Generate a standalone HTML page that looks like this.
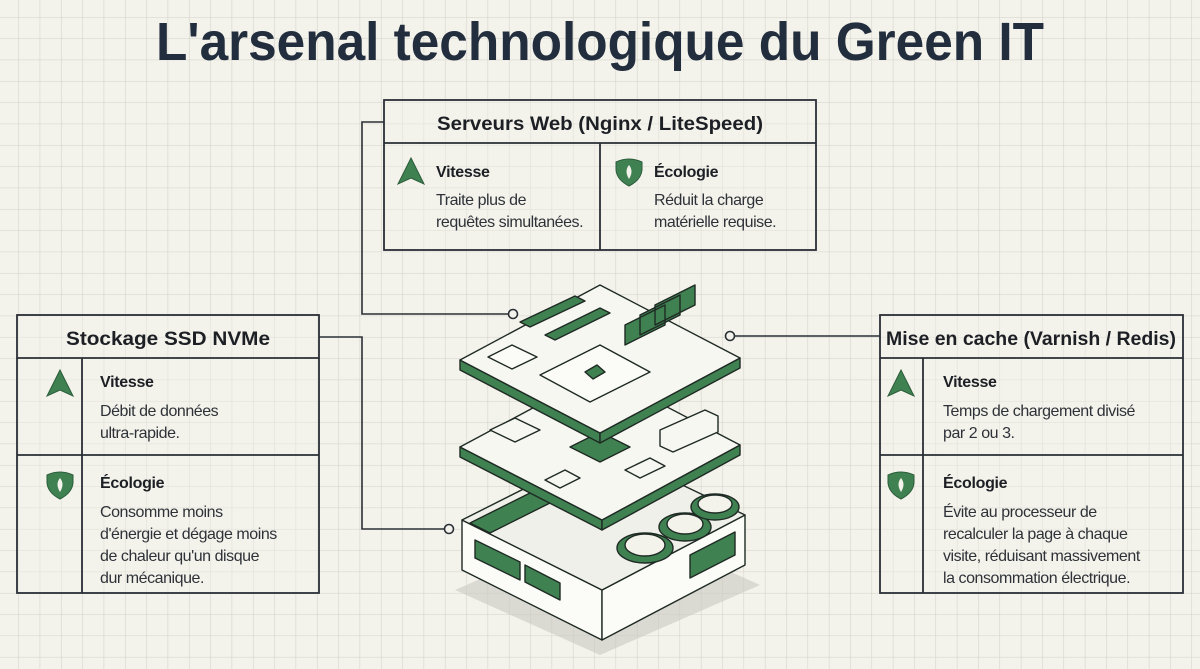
<!DOCTYPE html>
<html><head><meta charset="utf-8"><style>
html,body{margin:0;padding:0;background:#f3f2eb;}
svg{display:block}
text{font-family:"Liberation Sans",Arial,sans-serif;}
</style></head><body>
<svg width="1200" height="669" viewBox="0 0 1200 669" xmlns="http://www.w3.org/2000/svg">
<defs>
<pattern id="g" x="-3" y="-4.3" width="21.33" height="21.33" patternUnits="userSpaceOnUse">
<path d="M0 0H21.33M0 0V21.33" stroke="#d2d2c9" stroke-width="1.1" fill="none"/>
</pattern>
<g id="tri"><path d="M0 26 L13 0 L26 26 L13 20 Z" fill="#3f8151" stroke="#2b5c3a" stroke-width="1"/></g>
<g id="sh"><path d="M0 4 Q13 -2 26 4 L26 12 Q25 22 13 28 Q1 22 0 12 Z" fill="#3f8151" stroke="#2b5c3a" stroke-width="1"/><path d="M13 7 Q18 13 13 21 Q8 13 13 7 Z" fill="#f3f2eb"/></g>
</defs>
<rect width="1200" height="669" fill="#f3f2eb"/>
<rect width="1200" height="669" fill="url(#g)"/>

<text x="600" y="60" text-anchor="middle" font-size="54" font-weight="bold" fill="#222d3d" textLength="888" lengthAdjust="spacingAndGlyphs">L'arsenal technologique du Green IT</text>

<g stroke="#2a2f36" stroke-width="1.6" fill="none">
<path d="M384 122 H362 V314 H508"/>
<path d="M319 337 H362 V529 H444"/>
<path d="M735 336 H880"/>
</g>
<g fill="#f3f2eb" stroke="#2a2f36" stroke-width="1.6">
<circle cx="513" cy="314" r="4.5"/><circle cx="449" cy="529" r="4.5"/><circle cx="730" cy="336" r="4.5"/>
</g>

<g stroke="#2a2f36" stroke-width="1.8" fill="#f3f2eb">
<rect x="384" y="100" width="432" height="150" fill-opacity="0.4"/>
<path d="M384 143 H816 M600 143 V250" fill="none"/>
<rect x="17" y="315" width="302" height="278" fill-opacity="0.4"/>
<path d="M17 358 H319 M82 358 V593 M17 455 H319" fill="none"/>
<rect x="880" y="315" width="303" height="278" fill-opacity="0.4"/>
<path d="M880 358 H1183 M923 358 V593 M880 455 H1183" fill="none"/>
</g>

<g fill="#1c1f24" font-weight="bold">
<text x="600" y="130" text-anchor="middle" font-size="19" textLength="326" lengthAdjust="spacingAndGlyphs">Serveurs Web (Nginx / LiteSpeed)</text>
<text x="168" y="345" text-anchor="middle" font-size="19" textLength="204" lengthAdjust="spacingAndGlyphs">Stockage SSD NVMe</text>
<text x="1031" y="345" text-anchor="middle" font-size="19" textLength="290" lengthAdjust="spacingAndGlyphs">Mise en cache (Varnish / Redis)</text>
</g>
<g font-size="16" fill="#1c1f24" font-weight="bold" letter-spacing="-0.3">
<text x="436" y="177">Vitesse</text><text x="654" y="177">Écologie</text>
<text x="100" y="387">Vitesse</text><text x="100" y="488">Écologie</text>
<text x="943" y="387">Vitesse</text><text x="943" y="488">Écologie</text>
</g>
<g font-size="16" fill="#2e3238" letter-spacing="-0.45">
<text x="436" y="205">Traite plus de</text><text x="436" y="227">requêtes simultanées.</text>
<text x="654" y="205">Réduit la charge</text><text x="654" y="227">matérielle requise.</text>
<text x="100" y="416">Débit de données</text><text x="100" y="438">ultra-rapide.</text>
<text x="100" y="517">Consomme moins</text><text x="100" y="539">d'énergie et dégage moins</text><text x="100" y="561">de chaleur qu'un disque</text><text x="100" y="583">dur mécanique.</text>
<text x="943" y="416">Temps de chargement divisé</text><text x="943" y="438">par 2 ou 3.</text>
<text x="943" y="517">Évite au processeur de</text><text x="943" y="539">recalculer la page à chaque</text><text x="943" y="561">visite, réduisant massivement</text><text x="943" y="583">la consommation électrique.</text>
</g>
<use href="#tri" x="398" y="158"/><use href="#sh" x="616" y="158"/>
<use href="#tri" x="47" y="370"/><use href="#sh" x="47" y="471"/>
<use href="#tri" x="888" y="370"/><use href="#sh" x="888" y="471"/>

<g stroke="#1f2a24" stroke-width="1.4" stroke-linejoin="round">
<path d="M455 590 L600 655 L760 585 L615 520 Z" fill="#c9c9c2" stroke="none" opacity="0.6"/>
<path d="M462 520 L602 590 L602 640 L462 570 Z" fill="#fbfbf7"/>
<path d="M602 590 L745 515 L745 565 L602 640 Z" fill="#fbfbf7"/>
<path d="M462 520 L605 448 L745 515 L602 590 Z" fill="#f0f0ea"/>
<path d="M475 540 L520 562 L520 580 L475 558 Z M525 565 L560 583 L560 600 L525 582 Z" fill="#3f8151"/>
<path d="M690 555 L735 532 L735 555 L690 578 Z" fill="#3f8151"/>
<path d="M470 523 L540 488 L560 498 L490 533 Z" fill="#3f8151"/>
<ellipse cx="645" cy="548" rx="28" ry="15" fill="#3f8151"/><ellipse cx="645" cy="545" rx="20" ry="11" fill="#f3f2eb"/>
<ellipse cx="685" cy="527" rx="26" ry="14" fill="#3f8151"/><ellipse cx="685" cy="524" rx="18" ry="10" fill="#f3f2eb"/>
<ellipse cx="715" cy="507" rx="24" ry="13" fill="#3f8151"/><ellipse cx="715" cy="504" rx="17" ry="9" fill="#f3f2eb"/>
<path d="M460 447 L602 520 L602 530 L460 457 Z" fill="#3f8151"/>
<path d="M602 520 L740 445 L740 455 L602 530 Z" fill="#3f8151"/>
<path d="M460 447 L600 372 L740 445 L602 520 Z" fill="#f7f7f2"/>
<path d="M490 430 L515 418 L540 430 L515 442 Z" fill="#f7f7f2"/>
<path d="M570 447 L600 432 L630 447 L600 462 Z" fill="#3f8151"/>
<path d="M660 430 L705 410 L718 416 L718 432 L673 452 L660 446 Z" fill="#f7f7f2"/>
<path d="M545 480 L565 470 L580 478 L560 488 Z M625 470 L650 458 L665 466 L640 478 Z" fill="#f7f7f2"/>
<path d="M460 360 L600 433 L600 443 L460 370 Z" fill="#3f8151"/>
<path d="M600 433 L740 358 L740 368 L600 443 Z" fill="#3f8151"/>
<path d="M460 360 L600 285 L740 358 L600 433 Z" fill="#f7f7f2"/>
<path d="M540 375 L600 345 L650 372 L590 402 Z" fill="#fbfbf7"/>
<path d="M585 372 L597 365 L605 372 L593 379 Z" fill="#3f8151"/>
<path d="M488 357 L512 345 L537 357 L512 369 Z" fill="#fbfbf7"/>
<path d="M520 322 L575 296 L585 301 L530 327 Z M545 335 L600 308 L610 313 L555 340 Z" fill="#3f8151"/>
<path d="M625 325 L665 305 L665 325 L625 345 Z M640 315 L680 295 L680 315 L640 335 Z M655 305 L695 285 L695 305 L655 325 Z" fill="#3f8151"/>
</g>
</svg>
</body></html>
